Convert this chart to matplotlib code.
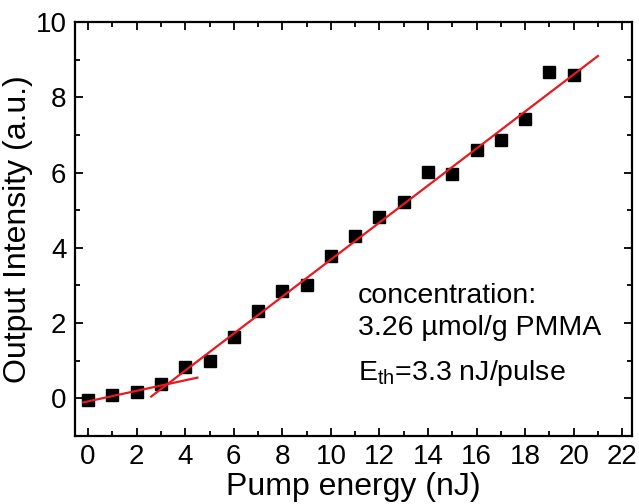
import matplotlib
matplotlib.use('Agg')
import matplotlib.pyplot as plt
import numpy as np
from matplotlib.ticker import MultipleLocator

plt.rcParams['font.family'] = ['Liberation Sans', 'DejaVu Sans']

# measured data
pump = [0, 1, 2, 3, 4, 5, 6, 7, 8, 9, 10, 11, 12, 13, 14, 15, 16, 17, 18, 19, 20]
intensity = [-0.05, 0.08, 0.18, 0.37, 0.82, 1.0, 1.64, 2.33, 2.86, 3.0, 3.79,
             4.32, 4.83, 5.22, 6.02, 5.97, 6.6, 6.87, 7.43, 8.67, 8.59]

# linear fits (below / above threshold): x range, slope, intercept
fit_low_x = [-0.2, 4.5]
fit_low = (0.14, -0.08)
fit_high_x = [2.6, 21.0]
fit_high = (0.492, -1.23)

fig = plt.figure(figsize=(6.39, 5.04), dpi=100)
ax = fig.add_axes([0.117, 0.135, 0.872, 0.821])

xl = np.array(fit_low_x)
ax.plot(xl, fit_low[0] * xl + fit_low[1], color='#e8191f', lw=1.6, zorder=3)
xh = np.array(fit_high_x)
ax.plot(xh, fit_high[0] * xh + fit_high[1], color='#e8191f', lw=1.6, zorder=3)
ax.plot(pump, intensity, 's', color='black', ms=8.5, zorder=2)

ax.set_xlim(-0.55, 22.4)
ax.set_ylim(-1, 10)
ax.xaxis.set_major_locator(MultipleLocator(2))
ax.xaxis.set_minor_locator(MultipleLocator(1))
ax.yaxis.set_major_locator(MultipleLocator(2))
ax.yaxis.set_minor_locator(MultipleLocator(1))
ax.tick_params(which='both', direction='in', top=True, right=True, width=1.3,
               labelsize=20, pad=6)
ax.tick_params(which='major', length=6)
ax.tick_params(which='minor', length=3.5)
for s in ax.spines.values():
    s.set_linewidth(1.6)

ax.set_xlabel('Pump energy (nJ)', fontsize=23, labelpad=1)
ax.set_ylabel('Output Intensity (a.u.)', fontsize=23, labelpad=2)

ax.text(11.1, 2.72, 'concentration:', fontsize=20.5, va='center')
ax.text(11.1, 1.86, '3.26 µmol/g PMMA', fontsize=20.5, va='center')
ax.text(11.1, 0.68, r'E$_{\mathregular{th}}$=3.3 nJ/pulse', fontsize=20.5, va='center')

fig.savefig('out.png', dpi=100)
